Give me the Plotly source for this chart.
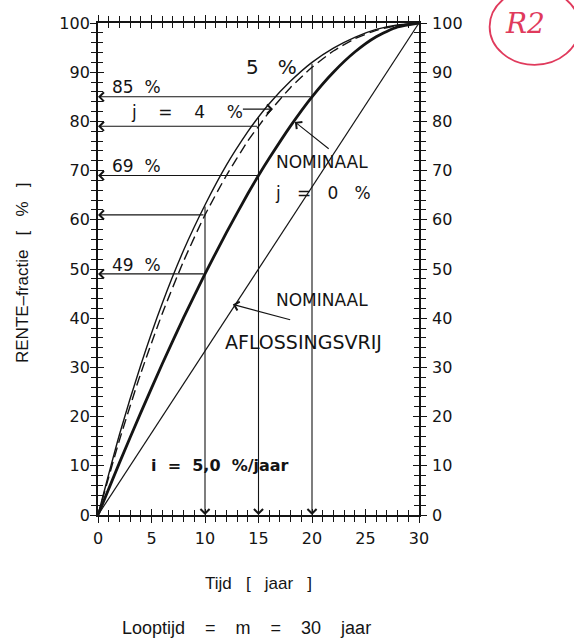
import plotly.graph_objects as go

# Rente-fractie (cumulative share of total interest paid) vs. time,
# annuity loan, i = 5.0 %/year, term m = 30 years
years = [0, 2, 4, 6, 8, 10, 12, 14, 15, 16, 18, 20, 22, 24, 26, 28, 30]
nominaal_j0 = [0, 10.6, 20.8, 30.7, 40.1, 49.0, 57.4, 65.3, 69.0, 72.5, 79.1, 85.0, 90.0, 94.1, 97.2, 99.2, 100]
reeel_j4 = [0, 15.2, 28.8, 40.9, 51.6, 61.0, 69.0, 76.0, 79.0, 81.9, 86.9, 91.0, 94.3, 96.8, 98.5, 99.5, 100]
reeel_j5 = [0, 16.3, 30.5, 43.0, 53.8, 63.0, 71.1, 77.9, 80.9, 83.6, 88.2, 92.0, 94.9, 97.1, 98.7, 99.6, 100]
aflossingsvrij_x = [0, 30]
aflossingsvrij_y = [0, 100]

# reading-off lines
ref_years = [10, 15, 20]
ref_top_j5 = [63, 81, 92]
nominaal_ref = [49, 69, 85]
nominaal_ref_text = ["49\u00a0\u00a0%", "69\u00a0\u00a0%", "85\u00a0\u00a0%"]
j4_ref_years = [10, 15]
j4_ref = [61, 79]

ink = "#141414"
tick_font = dict(family="DejaVu Sans", size=16, color=ink)
label_font = dict(family="DejaVu Sans", size=17, color=ink)

fig = go.Figure()

fig.add_trace(go.Scatter(x=aflossingsvrij_x, y=aflossingsvrij_y, mode="lines",
                         line=dict(color=ink, width=1.2), cliponaxis=False, hoverinfo="skip"))
fig.add_trace(go.Scatter(x=years, y=reeel_j5, mode="lines",
                         line=dict(color=ink, width=1.4, shape="spline", smoothing=0.6),
                         cliponaxis=False, hoverinfo="skip"))
fig.add_trace(go.Scatter(x=years, y=reeel_j4, mode="lines",
                         line=dict(color=ink, width=1.4, dash="10px,5px", shape="spline", smoothing=0.6),
                         cliponaxis=False, hoverinfo="skip"))
fig.add_trace(go.Scatter(x=years, y=nominaal_j0, mode="lines",
                         line=dict(color=ink, width=2.8, shape="spline", smoothing=0.6),
                         cliponaxis=False, hoverinfo="skip"))
# carrier for the inside-tick / right-hand axes
fig.add_trace(go.Scatter(x=[None], y=[None], xaxis="x2", yaxis="y2", hoverinfo="skip"))

ann = []


def arrow(x, y, ax, ay, size=1.6):
    ann.append(dict(x=x, y=y, ax=ax, ay=ay, xref="x", yref="y", axref="x", ayref="y",
                    text="", showarrow=True, arrowhead=4, arrowsize=size, arrowwidth=1.1,
                    arrowcolor=ink, standoff=0, startstandoff=0))


# vertical drop lines from the 5 % curve to the time axis
for yr, top in zip(ref_years, ref_top_j5):
    arrow(yr, 0, yr, top)
# horizontal lines from the nominal curve to the y axis
for yr, val in zip(ref_years, nominaal_ref):
    arrow(0, val, yr, val)
# horizontal lines from the j = 4 % curve
for yr, val in zip(j4_ref_years, j4_ref):
    arrow(0, val, yr, val)

# pointers from labels to curves
arrow(16.35, 82.5, 13.4, 82.5)
arrow(18.4, 79.9, 21.7, 74.2)
arrow(12.6, 42.8, 18.1, 39.6)


def text(x, y, s, anchor="left", font=label_font):
    ann.append(dict(x=x, y=y, xref="x", yref="y", text=s, showarrow=False,
                    xanchor=anchor, yanchor="middle", font=font))


big = dict(family="DejaVu Sans", size=17, color=ink)
for val, s in zip(nominaal_ref, nominaal_ref_text):
    text(1.1, val + 1.9, s, font=big)
text(2.9, 82.0, "j\u00a0\u00a0\u00a0\u00a0=\u00a0\u00a0\u00a0\u00a04\u00a0\u00a0\u00a0\u00a0%", font=big)
text(16.2, 91.0, "5\u00a0\u00a0\u00a0%", anchor="center", font=dict(family="DejaVu Sans", size=20, color=ink))
text(20.9, 71.7, "NOMINAAL", anchor="center")
text(21.0, 65.4, "j\u00a0\u00a0\u00a0=\u00a0\u00a0\u00a00\u00a0\u00a0\u00a0%", anchor="center", font=big)
text(20.9, 43.7, "NOMINAAL", anchor="center")
text(19.2, 35.2, "AFLOSSINGSVRIJ", anchor="center", font=dict(family="DejaVu Sans", size=19, color=ink))
text(11.4, 10.0, "<b>i\u00a0\u00a0=\u00a0\u00a05,0\u00a0\u00a0%/jaar</b>", anchor="center",
     font=dict(family="DejaVu Sans", size=16, color=ink))

# axis titles
title_font = dict(family="Liberation Sans", size=17, color=ink)
ann.append(dict(x=0, y=0.5, xref="paper", yref="paper", xshift=-76, yshift=-4, textangle=-90,
                text="RENTE\u2013fractie\u00a0\u00a0\u00a0[\u00a0\u00a0\u00a0%\u00a0\u00a0\u00a0]",
                showarrow=False, xanchor="center", yanchor="middle", font=title_font))
ann.append(dict(x=0.5, y=0, xref="paper", yref="paper", yshift=-68,
                text="Tijd\u00a0\u00a0\u00a0[\u00a0\u00a0\u00a0jaar\u00a0\u00a0\u00a0]",
                showarrow=False, xanchor="center", yanchor="middle", font=title_font))
ann.append(dict(x=0.464, y=0, xref="paper", yref="paper", yshift=-113,
                text="Looptijd\u00a0\u00a0\u00a0\u00a0=\u00a0\u00a0\u00a0\u00a0m\u00a0\u00a0\u00a0\u00a0=\u00a0\u00a0\u00a0\u00a030\u00a0\u00a0\u00a0\u00a0jaar",
                showarrow=False, xanchor="center", yanchor="middle",
                font=dict(family="Liberation Sans", size=18, color=ink)))

# handwritten sheet mark
red = "#e03a5c"
ann.append(dict(x=1.33, y=1.0, xref="paper", yref="paper", text="<i>R2</i>", showarrow=False,
                xanchor="center", yanchor="middle",
                font=dict(family="DejaVu Serif", size=28, color=red)))
shapes = [dict(type="circle", xref="paper", yref="paper", x0=1.22, x1=1.50, y0=0.915, y1=1.07,
               line=dict(color=red, width=1.8))]

axis_common = dict(showgrid=False, zeroline=False, showline=True, linecolor=ink, linewidth=1.8,
                   tickcolor=ink, tickwidth=1.3, mirror="allticks", tickfont=tick_font)

fig.update_layout(
    width=574, height=639,
    margin=dict(l=98, r=155, t=23, b=124),
    plot_bgcolor="white", paper_bgcolor="white",
    showlegend=False,
    font=dict(family="DejaVu Sans", color=ink),
    xaxis=dict(range=[0, 30], tick0=0, dtick=5, ticks="outside", ticklen=6,
               minor=dict(ticks="outside", dtick=1, ticklen=5, tickcolor=ink, tickwidth=1.1),
               ticklabelstandoff=2, **axis_common),
    xaxis2=dict(range=[0, 30], overlaying="x", anchor="y", side="bottom", tick0=0, dtick=5,
                ticks="inside", ticklen=6, showticklabels=False,
                minor=dict(ticks="inside", dtick=1, ticklen=5, tickcolor=ink, tickwidth=1.1),
                **axis_common),
    yaxis=dict(range=[0, 100], tick0=0, dtick=10, ticks="outside", ticklen=6,
               minor=dict(ticks="outside", dtick=2, ticklen=5, tickcolor=ink, tickwidth=1.1),
               ticklabelstandoff=-3, **axis_common),
    yaxis2=dict(range=[0, 100], overlaying="y", anchor="x", side="right", tick0=0, dtick=10,
                ticks="inside", ticklen=6, showticklabels=True, ticklabelstandoff=8,
                minor=dict(ticks="inside", dtick=2, ticklen=5, tickcolor=ink, tickwidth=1.1),
                **axis_common),
    annotations=ann,
    shapes=shapes,
)

fig.write_html("out.html")
